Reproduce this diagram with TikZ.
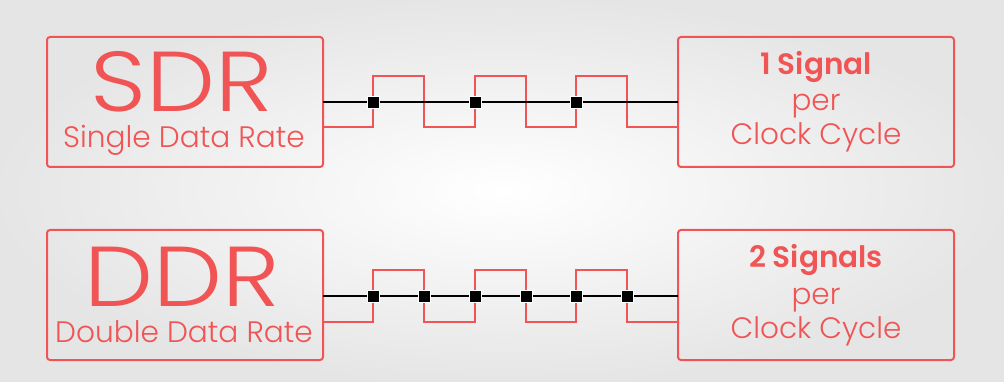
\documentclass[tikz,border=0pt]{standalone}
\usepackage{fontspec}
\setmainfont{Poppins}[UprightFont=* Light, BoldFont=* SemiBold]
\newfontfamily\wideface{Poppins Light}[FakeStretch=1.15]
\definecolor{sred}{RGB}{240,84,84}
\begin{document}
\begin{tikzpicture}[x=1pt,y=-1pt,
  box/.style={draw=sred, line width=2pt, rounded corners=3pt, minimum width=276pt, minimum height=130pt, anchor=north west, inner sep=0pt, outer sep=0pt},
  big/.style={anchor=base, text=sred, font=\wideface\fontsize{85}{85}\selectfont, inner sep=0pt, text depth=0pt},
  sub/.style={anchor=base, text=sred, font=\fontsize{29.6}{30}\selectfont, inner sep=0pt},
  rtxt/.style={anchor=base, text=sred, font=\fontsize{29.5}{30}\selectfont, inner sep=0pt},
  rbold/.style={rtxt, font=\fontsize{29.5}{30}\selectfont\bfseries},
  clk/.style={draw=black, line width=2pt},
  sig/.style={draw=sred, line width=2.5pt},
  sq/.style={fill=black, draw=white, line width=0.6pt, minimum size=12pt, inner sep=0pt}]
\useasboundingbox (0,0) rectangle (1004,382);
\shade[inner color=white, outer color=black!10] (0,0) rectangle (1004,382);
% boxes
\node[box] (sdr) at (47,37) {};
\node[box] (sdrR) at (678,37) {};
\node[box] (ddr) at (47,230) {};
\node[box] (ddrR) at (678,230) {};
% texts
\node[big] (sdrT) at (182,112) {SDR};
\node[sub] (sdrS) at (184,148) {Single Data Rate};
\node[rbold] (sdr1) at (816,75) {1 Signal};
\node[rtxt] (sdr2) at (816,111) {per};
\node[rtxt] (sdr3) at (816,145) {Clock Cycle};
\node[big] (ddrT) at (182,306) {DDR};
\node[sub] (ddrS) at (184,342) {Double Data Rate};
\node[rbold] (ddr1) at (816,268) {2 Signals};
\node[rtxt] (ddr2) at (816,304) {per};
\node[rtxt] (ddr3) at (816,338) {Clock Cycle};
% SDR signal
\draw[sig] ([yshift=-25pt]sdr.east) -- (373,127) -- (373,76) -- (424,76) -- (424,127) -- (475,127) -- (475,76) -- (526,76) -- (526,127) -- (576,127) -- (576,76) -- (627,76) -- (627,127) -- ([yshift=-25pt]sdrR.west);
\draw[clk] (sdr.east) -- (sdrR.west);
\foreach \x/\n in {373/a,475/b,576/c}{
  \node[sq] (s\n) at (\x,102) {};
}
% DDR signal
\draw[sig] ([yshift=-27pt]ddr.east) -- (373,322) -- (373,270) -- (424,270) -- (424,322) -- (475,322) -- (475,270) -- (526,270) -- (526,322) -- (576,322) -- (576,270) -- (627,270) -- (627,322) -- ([yshift=-27pt]ddrR.west);
\draw[clk] ([yshift=-1pt]ddr.east) -- ([yshift=-1pt]ddrR.west);
\foreach \x/\n in {373/a,424/b,475/c,526/d,576/e,627/f}{
  \node[sq] (d\n) at (\x,296) {};
}
\end{tikzpicture}
\end{document}
